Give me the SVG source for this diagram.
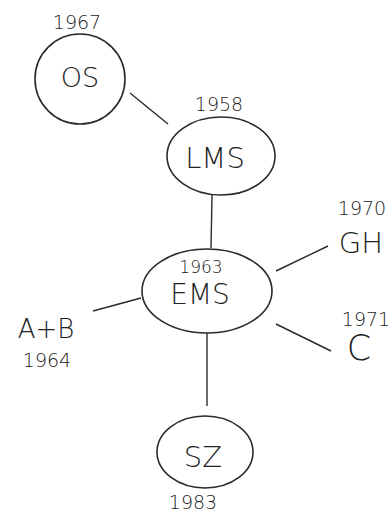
<svg xmlns="http://www.w3.org/2000/svg" width="392" height="512" viewBox="0 0 392 512">
<style>
.n{fill:none;stroke:#2a2a2a;stroke-width:1.6}
.c{stroke:#2a2a2a;stroke-width:1.4;fill:none}
.t{font-family:"DejaVu Sans","Liberation Sans",sans-serif;fill:#222;text-anchor:middle;font-weight:300}
.big{font-size:29px}
.yr{font-size:19px}
</style>
<rect width="392" height="512" fill="#fff"/>
<g id="connectors">
<line class="c" x1="130" y1="93" x2="168" y2="124"/>
<line class="c" x1="212" y1="195" x2="211" y2="248"/>
<line class="c" x1="276" y1="271" x2="328" y2="246"/>
<line class="c" x1="276" y1="324" x2="331" y2="351"/>
<line class="c" x1="93" y1="311" x2="141" y2="298"/>
<line class="c" x1="207" y1="333" x2="207" y2="406"/>
</g>
<g id="OS">
<ellipse class="n" cx="80" cy="79" rx="45" ry="45"/>
<text class="t big" x="80" y="87" style="font-size:27px">OS</text>
<text class="t yr" x="77" y="29">1967</text>
</g>
<g id="LMS">
<ellipse class="n" cx="221" cy="156" rx="54" ry="39"/>
<text class="t big" x="215" y="168">LMS</text>
<text class="t yr" x="219" y="111">1958</text>
</g>
<g id="EMS">
<ellipse class="n" cx="207" cy="291" rx="65" ry="42"/>
<text class="t yr" x="201" y="273" style="font-size:17px">1963</text>
<text class="t big" x="200" y="304" style="font-size:28px">EMS</text>
</g>
<g id="GH">
<text class="t yr" x="362" y="215">1970</text>
<text class="t big" x="361" y="253">GH</text>
</g>
<g id="C">
<text class="t yr" x="366" y="326">1971</text>
<text class="t big" x="359" y="360" style="font-size:35px">C</text>
</g>
<g id="AB">
<text class="t big" x="46" y="338" style="font-size:26px">A+B</text>
<text class="t yr" x="47" y="367">1964</text>
</g>
<g id="SZ">
<ellipse class="n" cx="205" cy="452" rx="48" ry="36"/>
<text class="t big" x="203" y="467">SZ</text>
<text class="t yr" x="193" y="509">1983</text>
</g>
</svg>
